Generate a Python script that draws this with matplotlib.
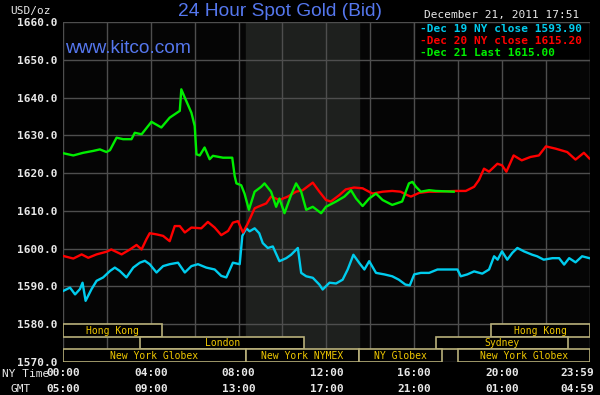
import matplotlib.pyplot as plt
from matplotlib.patches import Rectangle
from matplotlib.transforms import blended_transform_factory

# NY time in hours, bid price
dec19_t = [0, 0.32, 0.55, 0.77, 0.89, 1.03, 1.3, 1.53, 1.83, 2.14, 2.36, 2.59, 2.89, 3.2, 3.5, 3.73, 3.95,
           4.26, 4.56, 4.86, 5.24, 5.55, 5.85, 6.15, 6.53, 6.91, 7.21, 7.44, 7.74, 8.05, 8.17, 8.35, 8.5,
           8.73, 8.94, 9.1, 9.33, 9.56, 9.86, 10.17, 10.39, 10.7, 10.85, 11.08, 11.38, 11.68, 11.83, 12.14,
           12.44, 12.74, 12.97, 13.23, 13.5, 13.73, 13.95, 14.26, 14.64, 15.0, 15.3, 15.6, 15.8, 16.0,
           16.3, 16.68, 17.06, 17.97, 18.12, 18.42, 18.73, 19.1, 19.41, 19.64, 19.8, 20.0, 20.24, 20.47,
           20.7, 21.0, 21.38, 21.6, 21.9, 22.3, 22.6, 22.83, 23.06, 23.35, 23.65, 23.98]
dec19_p = [1588.8, 1589.7, 1587.9, 1589.3, 1591.0, 1586.2, 1589.3, 1591.5, 1592.4, 1594.1, 1595.0, 1594.1,
           1592.4, 1595.0, 1596.3, 1596.8, 1595.9, 1593.7, 1595.4, 1595.9, 1596.3, 1593.7, 1595.4, 1595.9,
           1595.0, 1594.5, 1592.8, 1592.4, 1596.3, 1595.9, 1603.4, 1605.4, 1604.6, 1605.4, 1604.1, 1601.5,
           1600.2, 1600.6, 1596.7, 1597.5, 1598.4, 1600.2, 1593.6, 1592.7, 1592.3, 1590.5, 1589.2, 1591.0,
           1590.8, 1591.8, 1594.5, 1598.4, 1596.2, 1594.5, 1596.7, 1593.6, 1593.2, 1592.7, 1591.8, 1590.5,
           1590.3, 1593.2, 1593.6, 1593.6, 1594.5, 1594.5, 1592.7, 1593.2, 1594.0, 1593.4, 1594.5, 1598.0,
           1597.1, 1599.3, 1597.1, 1598.9, 1600.2, 1599.3, 1598.4, 1598.0, 1597.1, 1597.5, 1597.5, 1595.8,
           1597.5, 1596.4, 1598.0, 1597.5]

dec20_t = [0, 0.47, 0.85, 1.15, 1.53, 1.98, 2.2, 2.67, 3.05, 3.35, 3.58, 3.8, 3.95, 4.26, 4.56, 4.86, 5.09,
           5.32, 5.55, 5.85, 6.3, 6.6, 6.91, 7.21, 7.52, 7.74, 7.97, 8.2, 8.42, 8.73, 8.88, 9.26, 9.48,
           9.86, 10.24, 10.62, 10.92, 11.38, 11.68, 11.98, 12.2, 12.59, 12.88, 13.26, 13.65, 14.1, 14.56,
           15.0, 15.38, 15.68, 15.85, 16.23, 16.68, 16.98, 17.9, 18.35, 18.73, 18.95, 19.18, 19.41, 19.79,
           20.0, 20.2, 20.53, 20.9, 21.3, 21.68, 22.0, 22.44, 22.97, 23.35, 23.73, 23.98]
dec20_p = [1598.1, 1597.4, 1598.5, 1597.6, 1598.5, 1599.2, 1599.8, 1598.5, 1599.8, 1601.0, 1599.8, 1602.5,
           1604.1, 1603.8, 1603.4, 1602.0, 1606.0, 1606.0, 1604.3, 1605.6, 1605.4, 1607.1, 1605.6, 1603.6,
           1604.7, 1606.9, 1607.3, 1604.3, 1606.7, 1610.7, 1611.1, 1612.0, 1613.8, 1612.9, 1613.8, 1615.1,
           1615.5, 1617.5, 1615.1, 1612.9, 1612.5, 1614.2, 1615.7, 1616.2, 1616.0, 1614.6, 1615.1, 1615.3,
           1615.1, 1614.2, 1613.8, 1614.8, 1615.1, 1615.1, 1615.3, 1615.3, 1616.4, 1618.2, 1621.2, 1620.4,
           1622.5, 1622.1, 1620.4, 1624.7, 1623.4, 1624.3, 1624.7, 1627.1, 1626.5, 1625.6, 1623.6, 1625.4,
           1623.9]

dec21_t = [0, 0.47, 0.92, 1.38, 1.68, 1.98, 2.14, 2.44, 2.74, 3.12, 3.27, 3.58, 4.03, 4.48, 4.86, 5.32,
           5.39, 5.55, 5.85, 6.0, 6.08, 6.23, 6.45, 6.68, 6.83, 7.29, 7.71, 7.82, 7.9, 8.12, 8.27, 8.47,
           8.73, 9.03, 9.18, 9.48, 9.71, 9.86, 10.09, 10.39, 10.62, 10.85, 11.08, 11.38, 11.76, 11.98,
           12.44, 12.82, 13.12, 13.35, 13.65, 13.95, 14.26, 14.56, 15.0, 15.45, 15.76, 15.92, 16.08, 16.3,
           16.68, 16.98, 17.8]
dec21_p = [1625.3, 1624.7, 1625.4, 1625.9, 1626.3, 1625.6, 1626.1, 1629.4, 1629.0, 1629.0, 1630.7, 1630.3,
           1633.6, 1632.1, 1634.7, 1636.5, 1642.2, 1640.0, 1636.0, 1632.5, 1625.0, 1624.7, 1626.8, 1623.7,
           1624.6, 1624.1, 1624.1, 1619.3, 1617.3, 1616.8, 1614.6, 1610.3, 1615.1, 1616.4, 1617.3, 1615.1,
           1611.1, 1613.3, 1609.4, 1614.2, 1617.3, 1615.1, 1610.3, 1611.1, 1609.4, 1611.1, 1612.5, 1613.8,
           1615.5, 1613.3, 1611.3, 1613.3, 1614.6, 1612.9, 1611.6, 1612.5, 1617.3, 1617.7, 1616.4, 1615.1,
           1615.5, 1615.3, 1615.1]

legend_labels = ["Dec 19 NY close 1593.90", "Dec 20 NY close 1615.20", "Dec 21 Last 1615.00"]
colors = ["#00ccee", "#ff0000", "#00ee00"]

# market sessions: (name, start hour, end hour, row)
sessions = [
    ("Hong Kong", 0, 4.5, 2), ("Hong Kong", 19.5, 24, 2),
    ("London", 3.5, 11, 1), ("Sydney", 17, 23, 1),
    ("New York Globex", 0, 8.33, 0), ("New York NYMEX", 8.33, 13.5, 0),
    ("NY Globex", 13.5, 17.25, 0), ("New York Globex", 18, 24, 0),
]
pit_start, pit_end = 8.33, 13.5

xtick_pos = [0, 4, 8, 12, 16, 20, 24]
xtick_ny = ["00:00", "04:00", "08:00", "12:00", "16:00", "20:00", "23:59"]
xtick_gmt = ["05:00", "09:00", "13:00", "17:00", "21:00", "01:00", "04:59"]

mono = "DejaVu Sans Mono"
fg = "#e8e8e8"
fig = plt.figure(figsize=(6, 3.95), dpi=100, facecolor="black")
ax = fig.add_axes([0.105, 0.0835, 0.878, 0.8605])
ax.set_facecolor("#050505")
ax.set_xlim(0, 24)
ax.set_ylim(1570, 1660)

ax.axvspan(pit_start, pit_end, color="#1e201e", zorder=0)
for h in range(0, 25, 2):
    ax.axvline(h, color="#4e4e4e", lw=1, zorder=1)
for v in range(1570, 1661, 10):
    ax.axhline(v, color="#4e4e4e", lw=1, zorder=1)

for t, p, c in [(dec19_t, dec19_p, colors[0]), (dec20_t, dec20_p, colors[1]), (dec21_t, dec21_p, colors[2])]:
    ax.plot(t, p, color=c, lw=1.7, zorder=3)

row_h = 10 / 3
for name, s, e, row in sessions:
    y0 = 1570 + row * row_h
    ax.add_patch(Rectangle((s, y0), e - s, row_h, facecolor="black", edgecolor="#b8b07a",
                           lw=1.2, zorder=4))
    ax.text((s + e) / 2, y0 + row_h / 2, name, color="#f0c800", fontsize=7, family=mono,
            ha="center", va="center", zorder=5)

for sp in ax.spines.values():
    sp.set_visible(False)
ax.set_yticks(range(1570, 1661, 10))
ax.set_yticklabels(["%.1f" % v for v in range(1570, 1661, 10)], color=fg,
                   fontsize=8, family=mono, fontweight="bold")
ax.set_xticks([])
ax.tick_params(length=0, pad=4)

# two rows of time labels under the plot
tr = blended_transform_factory(ax.transData, fig.transFigure)
for i, (x, a, b) in enumerate(zip(xtick_pos, xtick_ny, xtick_gmt)):
    ha = "center"
    if i == len(xtick_pos) - 1:
        ha = "right"
        x = 24.2
    ax.text(x, 0.055, a, transform=tr, color=fg, fontsize=8, family=mono, fontweight="bold",
            ha=ha, va="center", clip_on=False)
    ax.text(x, 0.015, b, transform=tr, color=fg, fontsize=8, family=mono, fontweight="bold",
            ha=ha, va="center", clip_on=False)

fig.text(0.003, 0.052, "NY Time", color=fg, fontsize=8, family=mono, va="center")
fig.text(0.017, 0.015, "GMT", color=fg, fontsize=8, family=mono, va="center")
fig.text(0.017, 0.972, "USD/oz", color=fg, fontsize=8, family=mono, va="center")

fig.text(0.4675, 0.97, "24 Hour Spot Gold (Bid)", color="#5577ee", fontsize=13.8,
         family="Liberation Sans", ha="center", va="center")
fig.text(0.108, 0.878, "www.kitco.com", color="#5577ee", fontsize=13.8,
         family="Liberation Sans", va="center")
fig.text(0.965, 0.962, "December 21, 2011 17:51", color=fg, fontsize=8,
         family=mono, ha="right", va="center")

# legend box
ax.add_patch(Rectangle((16.0, 1650), 8.0, 10, facecolor="black",
                       edgecolor="#4e4e4e", lw=1, zorder=6))
for i, (lab, c) in enumerate(zip(legend_labels, colors)):
    ax.text(16.25, 1658.3 - i * 3.2, "-" + lab, color=c, fontsize=8, family=mono,
            fontweight="bold", va="center", zorder=7)

fig.savefig("out.png", dpi=100, facecolor="black")
